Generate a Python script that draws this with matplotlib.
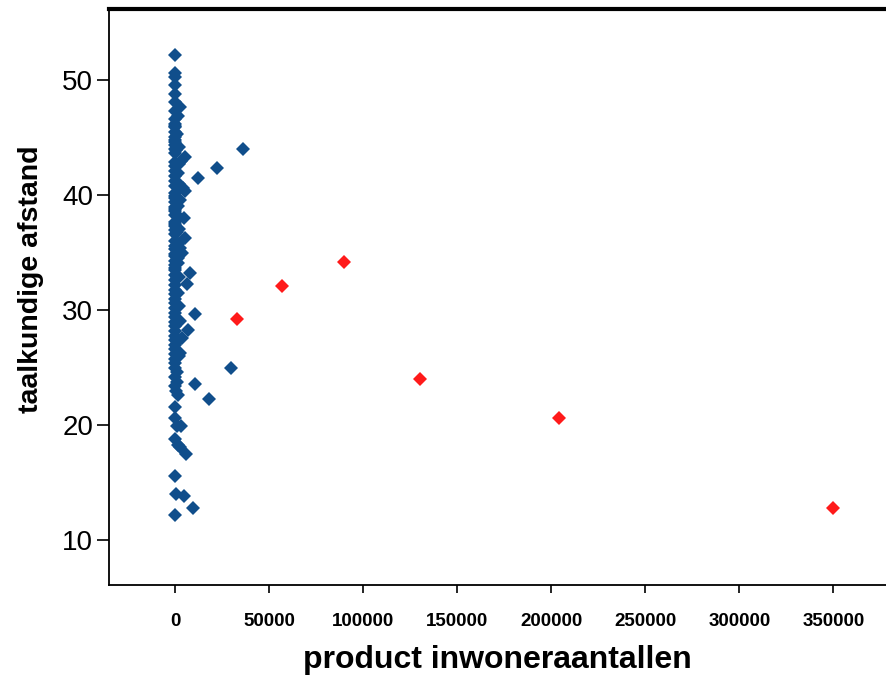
import matplotlib.pyplot as plt

# blue points (most sit on the vertical column near zero)
blue_x = [0, 0, 0, 0, 0, 0, 2500, 0, 1500, 0, 0, 0, 0, 0, 0, 0, 0,
          5000, 3000, 0, 0, 0, 0, 12300, 22400, 36300, 0, 0, 2000, 0, 4300, 5300, 0, 0,
          0, 0, 0, 0, 4800, 0, 0, 0, 0, 5300, 0, 1500, 0, 0, 3700, 0, 0, 0,
          8000, 6400, 0, 0, 1200, 0, 0, 0, 0, 10600, 0, 0, 7000, 3800, 0, 0,
          2700, 0, 0, 29800, 0, 0, 10600, 0, 18100, 0, 0, 3000, 0, 0, 2700,
          5900, 0, 0, 4800, 9400, 0, 1000, 0, 800, 0, 600, 1800, 0, 0, 900,
          0, 1400, 0, 700, 0, 0, 1100, 0, 500, 0, 1600, 0, 0, 800, 0, 1300, 0,
          1900, 2200, 1700, 2400, 1500, 2100, 2600, 1800, 2300, 1400, 2000, 2500, 1600, 2200]
blue_y = [52.2, 50.6, 50.3, 49.6, 48.8, 48.1, 47.7, 47.3, 46.9, 46.6, 46.2, 45.9, 45.5, 45.1, 44.8, 44.4, 44.0,
          43.3, 43.0, 43.7, 42.9, 42.5, 42.1, 41.5, 42.4, 44.0, 41.7, 41.2, 41.0, 40.8, 40.6, 40.4, 40.2, 39.8,
          39.4, 39.0, 38.6, 38.3, 38.0, 37.7, 37.3, 37.0, 36.6, 36.3, 36.0, 35.8, 35.6, 35.3, 35.0, 34.7, 34.3, 33.9,
          33.2, 32.3, 33.5, 33.1, 32.8, 32.6, 32.2, 31.8, 31.4, 29.7, 31.0, 30.6, 28.3, 27.6, 30.2, 29.8,
          26.3, 29.4, 29.0, 25.0, 28.6, 28.2, 23.6, 27.8, 22.3, 27.4, 27.0, 19.9, 26.6, 26.2, 18.1,
          17.5, 25.8, 25.4, 13.8, 12.8, 25.0, 24.6, 24.2, 23.8, 23.4, 23.0, 22.6, 21.6, 20.6, 19.9,
          18.8, 18.3, 15.6, 14.0, 12.2, 46.0, 45.3, 44.6, 43.9, 39.9, 39.1, 38.8, 37.5, 36.8, 34.9, 34.1, 33.7,
          44.2, 42.7, 41.9, 39.6, 38.2, 37.1, 35.4, 34.5, 32.9, 31.5, 30.4, 29.1, 27.3, 26.0]

# red points
red_x = [33000, 57000, 90000, 130000, 204000, 350000]
red_y = [29.2, 32.1, 34.2, 24.0, 20.6, 12.8]

xticks = [0, 50000, 100000, 150000, 200000, 250000, 300000, 350000]
yticks = [10, 20, 30, 40, 50]

fig = plt.figure(figsize=(8.86, 6.75), dpi=100)
ax = fig.add_axes([0.1225, 0.1333, 0.8775, 0.8534])

ax.plot(blue_x, blue_y, 'D', color='#104E8B', markersize=7, markeredgewidth=0, linestyle='none')
ax.plot(red_x, red_y, 'D', color='#FF1A1A', markersize=7, markeredgewidth=0, linestyle='none')

ax.set_xlim(-35400, 378000)
ax.set_ylim(6.1, 56.2)

ax.spines['right'].set_visible(False)
ax.spines['top'].set_linewidth(3)
ax.spines['left'].set_linewidth(1.3)
ax.spines['bottom'].set_linewidth(1.3)

ax.set_xticks(xticks)
ax.set_xticklabels([str(t) for t in xticks], family='Liberation Sans', fontsize=13.5, fontweight='bold')
ax.set_yticks(yticks)
ax.set_yticklabels([str(t) for t in yticks], family='Liberation Sans', fontsize=20)
ax.tick_params(axis='x', length=6, width=1.2, pad=14)
ax.tick_params(axis='y', length=9, width=1.2, pad=2)

ax.set_xlabel('product inwoneraantallen', family='Liberation Sans', fontsize=23, fontweight='bold')
ax.set_ylabel('taalkundige afstand', family='Liberation Sans', fontsize=20.5, fontweight='bold')
ax.xaxis.set_label_coords(0.5, -0.104)
ax.yaxis.set_label_coords(-0.083, 0.53)

fig.savefig('out.png', dpi=100)
